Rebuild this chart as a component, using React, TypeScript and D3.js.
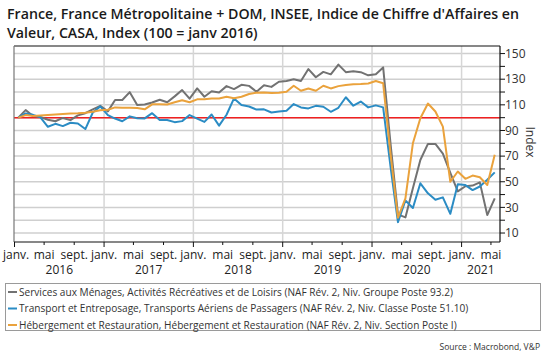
import React from "react";
import * as d3 from "d3";

const TITLE_LINES = [
  "France, France Métropolitaine + DOM, INSEE, Indice de Chiffre d'Affaires en",
  "Valeur, CASA, Index (100 = janv 2016)",
];

const SERIES_NAMES = [
  "Services aux Ménages, Activités Récréatives et de Loisirs (NAF Rév. 2, Niv. Groupe Poste 93.2)",
  "Transport et Entreposage, Transports Aériens de Passagers (NAF Rév. 2, Niv. Classe Poste 51.10)",
  "Hébergement et Restauration, Hébergement et Restauration (NAF Rév. 2, Niv. Section Poste I)",
];
const SERIES_COLORS = ["#727272", "#2b8cc4", "#eaa23c"];

// Monthly values, janv. 2016 .. mai 2021
const servicesLoisirs = [
  100, 105.9, 101.2, 100.5, 98.4, 97.2, 99.8, 98.1, 101.8, 103.5, 106.5, 109.2,
  104.9, 113.8, 113.8, 119.9, 109.8, 110.2, 111.8, 114, 112, 116.6, 121.5, 114.8,
  122.8, 116.3, 120.6, 119.6, 124.6, 122.3, 125.6, 124.8, 120.2, 125.2, 124, 128,
  128.6, 129.9, 128.6, 137.9, 131.5, 135.7, 133.8, 141.4, 135.5, 136.2, 135.5, 133,
  133.8, 139.2, 80, 24.5, 22.2, 45, 67, 79.5, 79.5, 72, 57, 42.5,
  46.5, 47, 49.5, 24, 37,
];
const transportAerien = [
  100, 103.3, 102.2, 100.3, 92.9, 95.2, 93.4, 96, 95.5, 91.1, 104, 108.8,
  102, 99.3, 97.2, 101, 99.5, 99.4, 103.5, 98.2, 98.2, 96.5, 97.3, 102,
  99.2, 96.7, 102.5, 93.8, 102.3, 115, 109.8, 108.7, 106.3, 106.5, 104, 104.8,
  105.4, 110.6, 108, 107.2, 109.2, 108.5, 104.6, 107.7, 115.9, 109.3, 112.6, 108,
  109.6, 108, 62, 18.5, 35.5, 29.5, 48.8, 41, 36, 37.8, 25, 48,
  47.4, 43.5, 46.3, 51.5, 57.3,
];
const hebergementRestauration = [
  100, 102, 101.3, 101.6, 102, 102.5, 102.8, 103.2, 103.4, 103.8, 104.6, 105.8,
  106.2, 108, 107.8, 107.8, 107.6, 106.5, 110.4, 110.5, 110.3, 112, 113.6, 112,
  114.3, 114.3, 115, 115, 116.3, 115.2, 116.3, 118.5, 119.5, 119.7, 119.2, 119.4,
  120.2, 124.9, 121, 122.8, 121, 124.9, 122.8, 124.6, 125.4, 126, 126.2, 126.7,
  128.6, 126.8, 72, 22, 37, 80, 99.5, 111, 104.8, 93, 50, 58,
  52.3, 54.8, 53.5, 47.5, 71,
];

const MONTH_LABELS = ["janv.", "févr.", "mars", "avr.", "mai", "juin", "juil.", "août", "sept.", "oct.", "nov.", "déc."];
const Y_TICKS = [10, 30, 50, 70, 90, 110, 130, 150];
const Y_GRID = [10, 20, 30, 40, 50, 60, 70, 80, 90, 100, 110, 120, 130, 140, 150];
const REFERENCE_VALUE = 100;
const SOURCE = "Source : Macrobond, V&P";
const Y_LABEL = "Index";

const W = 547;
const H = 361;
const FONT = "'Open Sans', 'Noto Sans', sans-serif";

export default function App() {
  const start = new Date(2016, 0, 1);
  const months = d3.timeMonth.range(start, new Date(2021, 5, 1));
  const x = d3.scaleTime().domain([start, new Date(2021, 5, 7)]).range([14.5, 500]);
  const y = d3.scaleLinear().domain([3, 155.9]).range([242, 46]);
  const plotL = 14, plotR = 500, plotT = 46, plotB = 242;

  const midX = (d: Date) => (x(d) + x(d3.timeMonth.offset(d, 1))) / 2;
  const allSeries = [servicesLoisirs, transportAerien, hebergementRestauration];
  const line = d3
    .line<number>()
    .x((_, i) => midX(months[i]))
    .y((v) => y(v));

  const tickDates = d3.timeMonth.range(start, new Date(2021, 5, 7), 4);
  const janDates = tickDates.filter((d) => d.getMonth() === 0);
  const years = d3.range(2016, 2022);

  return (
    <svg width={W} height={H} style={{ position: "absolute", left: 0, top: 0, background: "#fff" }} fontFamily={FONT}>
      <rect x={0} y={0} width={W} height={H} fill="#fff" />
      {TITLE_LINES.map((t, i) => (
        <text key={i} x={7} y={19 + i * 19} fontSize={14.2} fontWeight={600} fill="#1a1a1a">
          {t}
        </text>
      ))}

      {/* horizontal gridlines */}
      {Y_GRID.map((v) => (
        <line key={v} x1={plotL} x2={plotR} y1={y(v)} y2={y(v)} stroke="#cfcfcf" strokeWidth={1.5} />
      ))}
      {/* vertical gridlines at janv. */}
      {janDates.slice(1).map((d, i) => (
        <line key={i} x1={x(d)} x2={x(d)} y1={plotT} y2={plotB} stroke="#d6d6d6" strokeWidth={1.5} />
      ))}

      {/* reference line */}
      <line x1={plotL} x2={plotR} y1={y(REFERENCE_VALUE)} y2={y(REFERENCE_VALUE)} stroke="#f02020" strokeWidth={1.5} />

      {/* series */}
      {allSeries.map((s, i) => (
        <path key={i} d={line(s) || ""} fill="none" stroke={SERIES_COLORS[i]} strokeWidth={2} strokeLinejoin="round" />
      ))}

      {/* frame */}
      <line x1={plotL} x2={plotR} y1={plotT} y2={plotT} stroke="#111" strokeWidth={1.2} />
      <line x1={plotL} x2={plotL} y1={plotT} y2={plotB} stroke="#777" strokeWidth={1.2} />
      <line x1={plotR} x2={plotR} y1={plotT} y2={plotB} stroke="#111" strokeWidth={1.2} />
      <line x1={plotL} x2={plotR} y1={plotB} y2={plotB} stroke="#111" strokeWidth={1.2} />

      {/* right axis ticks */}
      {Y_GRID.map((v) => (
        <line key={v} x1={plotR} x2={plotR + 5} y1={y(v)} y2={y(v)} stroke="#111" strokeWidth={1} />
      ))}
      {Y_TICKS.map((v) => (
        <text key={v} x={505} y={y(v)} dy="0.35em" fontSize={12} fill="#333">
          {v}
        </text>
      ))}
      <text
        transform={`translate(530, 142) rotate(90)`}
        textAnchor="middle"
        dy="0.35em"
        fontSize={12}
        fill="#333"
      >
        {Y_LABEL}
      </text>

      {/* bottom axis */}
      {tickDates.map((d, i) => {
        const major = d.getMonth() === 0;
        const tx = x(d);
        const first = i === 0;
        return (
          <g key={i}>
            <line x1={tx} x2={tx} y1={plotB} y2={plotB + (major ? 5 : 3)} stroke="#111" strokeWidth={1} />
            <text
              x={first ? 3 : tx}
              y={258.5}
              textAnchor={first ? "start" : "middle"}
              fontSize={12}
              fill="#222"
            >
              {MONTH_LABELS[d.getMonth()]}
            </text>
          </g>
        );
      })}
      {years.map((yr) => {
        const a = x(new Date(yr, 0, 1));
        const b = Math.min(plotR, x(new Date(yr + 1, 0, 1)));
        return (
          <text key={yr} x={(a + b) / 2} y={274} textAnchor="middle" fontSize={12} fill="#222">
            {yr}
          </text>
        );
      })}

      {/* legend */}
      <rect x={5.5} y={283.5} width={535} height={47} fill="none" stroke="#9a9a9a" strokeWidth={1} />
      {SERIES_NAMES.map((n, i) => (
        <g key={i}>
          <line x1={8} x2={17} y1={292 + i * 16.5} y2={292 + i * 16.5} stroke={SERIES_COLORS[i]} strokeWidth={2} />
          <text x={19} y={292 + i * 16.5} dy="0.35em" fontSize={10.1} fill="#333">
            {n}
          </text>
        </g>
      ))}

      <text x={540} y={350} textAnchor="end" fontSize={8.5} fill="#333">
        {SOURCE}
      </text>
    </svg>
  );
}
